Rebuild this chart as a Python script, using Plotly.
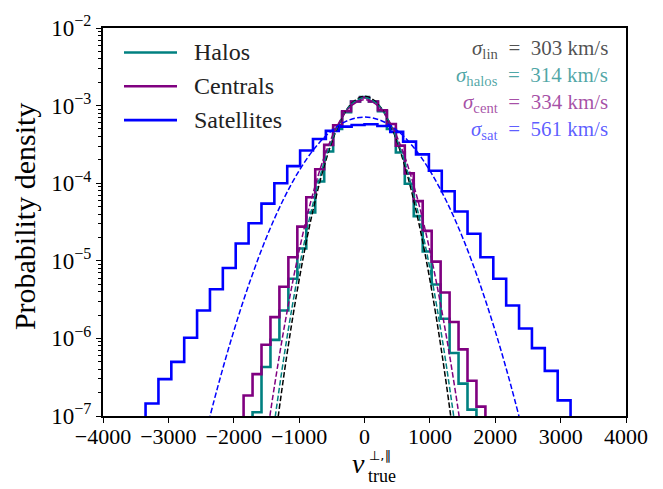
import plotly.graph_objects as go

# ---------------- data ----------------
# Halos / Centrals histograms share bin edges (km/s)
hc_edges = [-1849.5, -1712.5, -1575.5, -1438.5, -1301.5, -1164.5, -1027.5, -890.5,
            -753.5, -616.5, -479.5, -342.5, -205.5, -68.5, 68.5, 205.5, 342.5,
            479.5, 616.5, 753.5, 890.5, 1027.5, 1164.5, 1301.5, 1438.5, 1575.5,
            1712.5, 1849.5]
halos_pdf = [0, 1.12e-7, 4.28e-7, 9.57e-7, 2.29e-6, 5.86e-6, 1.44e-5, 4.19e-5,
             1.05e-4, 2.56e-4, 5.00e-4, 8.20e-4, 1.13e-3, 1.29e-3, 1.13e-3,
             8.45e-4, 5.00e-4, 2.49e-4, 9.82e-5, 3.77e-5, 1.32e-5, 4.96e-6,
             1.79e-6, 6.49e-7, 2.61e-7, 1.21e-7, 0]
centrals_pdf = [1.84e-7, 3.46e-7, 8.28e-7, 1.88e-6, 4.64e-6, 1.11e-5, 2.76e-5,
                6.59e-5, 1.51e-4, 3.12e-4, 5.57e-4, 8.45e-4, 1.13e-3, 1.27e-3,
                1.13e-3, 8.70e-4, 5.79e-4, 3.05e-4, 1.34e-4, 5.87e-5, 2.43e-5,
                9.75e-6, 3.90e-6, 1.63e-6, 7.22e-7, 2.85e-7, 1.32e-7]
# Satellites histogram bin edges (km/s)
sat_edges = [-3349, -3152, -2955, -2758, -2561, -2364, -2167, -1970, -1773, -1576,
             -1379, -1182, -985, -788, -591, -394, -197, 0, 197, 394, 591, 788,
             985, 1182, 1379, 1576, 1773, 1970, 2167, 2364, 2561, 2758, 2955, 3152]
sat_pdf = [1.45e-7, 2.99e-7, 4.99e-7, 1.02e-6, 2.29e-6, 4.29e-6, 8.07e-6, 1.67e-5,
           3.05e-5, 5.45e-5, 1.00e-4, 1.66e-4, 2.64e-4, 3.71e-4, 4.72e-4, 5.36e-4,
           5.62e-4, 5.74e-4, 5.46e-4, 4.59e-4, 3.43e-4, 2.35e-4, 1.45e-4, 7.86e-5,
           4.32e-5, 2.23e-5, 1.11e-5, 5.86e-6, 2.65e-6, 1.34e-6, 7.50e-7, 3.81e-7,
           1.59e-7]

# Dashed Gaussian model curves
lin_v = [-1400, -1200, -1000, -800, -600, -400, -200, 0, 200, 400, 600, 800, 1000, 1200, 1400]
lin_pdf = [3.05e-8, 5.19e-7, 5.69e-6, 4.04e-5, 1.86e-4, 5.51e-4, 1.06e-3, 1.32e-3,
           1.06e-3, 5.51e-4, 1.86e-4, 4.04e-5, 5.69e-6, 5.19e-7, 3.05e-8]
halo_fit_v = [-1400, -1200, -1000, -800, -600, -400, -200, 0, 200, 400, 600, 800, 1000, 1200, 1400]
halo_fit_pdf = [6.12e-8, 8.57e-7, 7.98e-6, 4.94e-5, 2.05e-4, 5.65e-4, 1.04e-3, 1.27e-3,
                1.04e-3, 5.65e-4, 2.05e-4, 4.94e-5, 7.98e-6, 8.57e-7, 6.12e-8]
cent_fit_v = [-1600, -1400, -1200, -1000, -800, -600, -400, -200, 0, 200, 400, 600, 800,
              1000, 1200, 1400, 1600]
cent_fit_pdf = [1.24e-8, 1.83e-7, 1.88e-6, 1.35e-5, 6.78e-5, 2.38e-4, 5.83e-4, 9.98e-4,
                1.19e-3, 9.98e-4, 5.83e-4, 2.38e-4, 6.78e-5, 1.35e-5, 1.88e-6, 1.83e-7,
                1.24e-8]
sat_fit_v = [-2500, -2250, -2000, -1750, -1500, -1250, -1000, -750, -500, -250, 0,
             250, 500, 750, 1000, 1250, 1500, 1750, 2000, 2250, 2500]
sat_fit_pdf = [3.47e-8, 2.29e-7, 1.24e-6, 5.48e-6, 2.00e-5, 5.94e-5, 1.45e-4, 2.91e-4,
               4.78e-4, 6.44e-4, 7.11e-4, 6.44e-4, 4.78e-4, 2.91e-4, 1.45e-4, 5.94e-5,
               2.00e-5, 5.48e-6, 1.24e-6, 2.29e-7, 3.47e-8]

legend_names = ["Halos", "Centrals", "Satellites"]
EQ = "\u00a0\u00a0=\u00a0\u00a0"
sigma_texts = ["<i>σ</i><sub>lin</sub>" + EQ + "303 km/s",
               "<i>σ</i><sub>halos</sub>" + EQ + "314 km/s",
               "<i>σ</i><sub>cent</sub>" + EQ + "334 km/s",
               "<i>σ</i><sub>sat</sub>" + EQ + "561 km/s"]
x_ticks = [-4000, -3000, -2000, -1000, 0, 1000, 2000, 3000, 4000]
x_ticktext = ["−4000", "−3000", "−2000", "−1000", "0", "1000", "2000", "3000", "4000"]
y_ticks = [1e-7, 1e-6, 1e-5, 1e-4, 1e-3, 1e-2]
y_ticktext = ["10<sup>−7</sup>", "10<sup>−6</sup>", "10<sup>−5</sup>",
              "10<sup>−4</sup>", "10<sup>−3</sup>", "10<sup>−2</sup>"]

# ---------------- styling ----------------
TEAL, PURPLE, BLUE = "#008080", "#800080", "#0000ff"
FONT = "Liberation Serif"
W, H = 663, 489
L, R, T, B = 103, 37, 20, 73
PW, PH = W - L - R, H - T - B


def px(x):
    return (x - L) / PW


def py(y):
    return (H - B - y) / PH


def steps(edges, vals, base=1e-12):
    xs, ys = [edges[0]], [base]
    for i, v in enumerate(vals):
        v = v if v > 0 else base
        xs += [edges[i], edges[i + 1]]
        ys += [v, v]
    xs.append(edges[-1])
    ys.append(base)
    return xs, ys


fig = go.Figure()
for name, edges, vals, col in [("Halos", hc_edges, halos_pdf, TEAL),
                               ("Centrals", hc_edges, centrals_pdf, PURPLE),
                               ("Satellites", sat_edges, sat_pdf, BLUE)]:
    xs, ys = steps(edges, vals)
    fig.add_trace(go.Scatter(x=xs, y=ys, mode="lines", name=name,
                             line=dict(color=col, width=2.6), showlegend=False))

for v, p, col in [(lin_v, lin_pdf, "black"), (halo_fit_v, halo_fit_pdf, TEAL),
                  (cent_fit_v, cent_fit_pdf, PURPLE), (sat_fit_v, sat_fit_pdf, BLUE)]:
    fig.add_trace(go.Scatter(x=v, y=p, mode="lines", showlegend=False,
                             line=dict(color=col, width=1.5, dash="5.5px,2.4px",
                                       shape="spline", smoothing=1.0)))

annotations = []
shapes = []
# manual legend
for i, (name, col) in enumerate(zip(legend_names, [TEAL, PURPLE, BLUE])):
    yy = 45 + 34.5 * i
    shapes.append(dict(type="line", xref="paper", yref="paper",
                       x0=px(124), x1=px(177), y0=py(yy), y1=py(yy),
                       line=dict(color=col, width=2.6)))
    annotations.append(dict(text=name, xref="paper", yref="paper", x=px(192), y=py(yy),
                            xanchor="left", yanchor="middle", showarrow=False,
                            font=dict(family=FONT, size=24, color="#222")))
# sigma labels
for i, (txt, col) in enumerate(zip(sigma_texts, ["rgba(50,50,50,0.85)", "rgba(0,128,128,0.7)",
                                                 "rgba(128,0,128,0.7)", "rgba(0,0,255,0.65)"])):
    yy = 41 + 27.6 * i
    annotations.append(dict(text=txt, xref="paper", yref="paper", x=px(610), y=py(yy),
                            xanchor="right", yanchor="middle", showarrow=False,
                            font=dict(family=FONT, size=21, color=col)))
# axis titles
annotations.append(dict(text="Probability density", xref="paper", yref="paper",
                        x=px(24), y=py(212), textangle=-90, showarrow=False,
                        xanchor="center", yanchor="middle",
                        font=dict(family=FONT, size=30, color="black")))
annotations.append(dict(text="<i>v</i>", xref="paper", yref="paper", x=px(358), y=py(464),
                        showarrow=False, xanchor="center", yanchor="middle",
                        font=dict(family=FONT, size=28, color="black")))
annotations.append(dict(text="⊥,∥", xref="paper", yref="paper", x=px(367), y=py(456),
                        showarrow=False, xanchor="left", yanchor="middle",
                        font=dict(family="DejaVu Sans", size=13, color="black")))
annotations.append(dict(text="true", xref="paper", yref="paper", x=px(366), y=py(477),
                        showarrow=False, xanchor="left", yanchor="middle",
                        font=dict(family=FONT, size=18, color="black")))

fig.update_layout(
    width=W, height=H, margin=dict(l=L, r=R, t=T, b=B),
    paper_bgcolor="white", plot_bgcolor="white",
    font=dict(family=FONT, size=22, color="black"),
    annotations=annotations, shapes=shapes, showlegend=False,
)
fig.update_xaxes(range=[-4000, 4000], tickvals=x_ticks, ticktext=x_ticktext,
                 ticks="outside", ticklen=5, ticklabelstandoff=-6,
                 tickwidth=1, tickcolor="black", showline=True, linewidth=2.2,
                 linecolor="black", mirror=True, showgrid=False, zeroline=False,
                 tickfont=dict(family=FONT, size=22))
fig.update_yaxes(type="log", range=[-7, -2], tickvals=y_ticks, ticktext=y_ticktext,
                 ticks="outside", ticklen=5, tickwidth=1, tickcolor="black",
                 showline=True, linewidth=2.2, linecolor="black", mirror=True,
                 showgrid=False, zeroline=False, tickfont=dict(family=FONT, size=23),
                 minor=dict(ticks="outside", ticklen=2.5, tickwidth=1, tickcolor="black",
                            dtick="D1", showgrid=False))

fig.write_html("out.html", config={"displayModeBar": False},
               post_script="document.body.style.margin='0';document.body.style.overflow='hidden';")
